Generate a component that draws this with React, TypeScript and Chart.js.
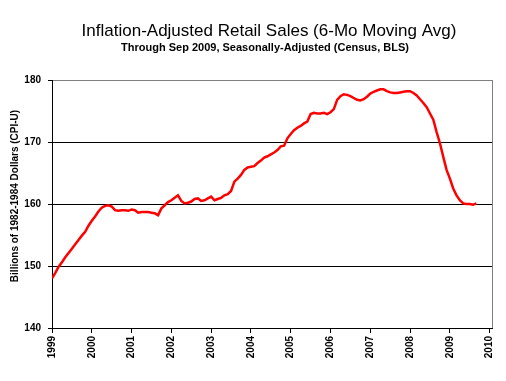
import React, { useEffect, useRef } from "react";
import { Chart, registerables } from "chart.js";

Chart.register(...registerables);

const TITLE = "Inflation-Adjusted Retail Sales (6-Mo Moving Avg)";
const SUBTITLE = "Through Sep 2009, Seasonally-Adjusted (Census, BLS)";
const Y_TITLE = "Billions of 1982-1984 Dollars (CPI-U)";

// Year tick labels (one tick every 12 months starting Jan 1999)
const YEAR_LABELS = ["1999", "2000", "2001", "2002", "2003", "2004", "2005", "2006", "2007", "2008", "2009", "2010"];

// Monthly values, Jan 1999 .. Sep 2009
const V1999 = [148.0, 148.9, 149.9, 150.6, 151.4, 152.1, 152.8, 153.5, 154.2, 154.9, 155.5, 156.5];
const V2000 = [157.3, 158.0, 158.8, 159.4, 159.7, 159.8, 159.6, 159.0, 158.9, 159.0, 159.0, 158.9];
const V2001 = [159.1, 159.0, 158.6, 158.7, 158.7, 158.7, 158.6, 158.5, 158.2, 159.3, 159.8, 160.3];
const V2002 = [160.6, 161.0, 161.4, 160.5, 160.1, 160.2, 160.4, 160.8, 160.9, 160.5, 160.6, 160.9];
const V2003 = [161.2, 160.6, 160.8, 161.0, 161.4, 161.6, 162.1, 163.6, 164.1, 164.7, 165.5, 165.9];
const V2004 = [166.0, 166.1, 166.6, 167.0, 167.5, 167.7, 168.0, 168.3, 168.7, 169.3, 169.4, 170.6];
const V2005 = [171.3, 171.9, 172.3, 172.6, 173.0, 173.3, 174.5, 174.7, 174.6, 174.6, 174.7, 174.5];
const V2006 = [174.8, 175.3, 176.8, 177.4, 177.7, 177.6, 177.4, 177.1, 176.8, 176.7, 176.9, 177.3];
const V2007 = [177.8, 178.1, 178.3, 178.5, 178.5, 178.2, 178.0, 177.9, 177.9, 178.0, 178.1, 178.2];
const V2008 = [178.2, 177.9, 177.5, 176.9, 176.3, 175.6, 174.6, 173.6, 171.6, 169.8, 167.6, 165.5];
const V2009 = [164.1, 162.5, 161.4, 160.6, 160.1, 160.0, 160.0, 159.9, 160.1];

const SALES = [...V1999, ...V2000, ...V2001, ...V2002, ...V2003, ...V2004, ...V2005, ...V2006, ...V2007, ...V2008, ...V2009];

const FONT = "'Liberation Sans', Arial, Helvetica, sans-serif";

const textPlugin = {
  id: "textPlugin",
  afterDraw(chart: any) {
    const { ctx, chartArea } = chart;
    ctx.save();
    // right border of plot area
    ctx.strokeStyle = "#808080";
    ctx.lineWidth = 1;
    ctx.beginPath();
    ctx.moveTo(Math.round(chartArea.right) + 0.5, chartArea.top);
    ctx.lineTo(Math.round(chartArea.right) + 0.5, chartArea.bottom);
    ctx.stroke();

    ctx.fillStyle = "#000";
    ctx.textAlign = "center";
    ctx.textBaseline = "alphabetic";
    ctx.font = `17px ${FONT}`;
    ctx.fillText(TITLE, 269, 36);
    ctx.font = `bold 11px ${FONT}`;
    ctx.fillText(SUBTITLE, 265, 51);

    ctx.translate(15, 196);
    ctx.rotate(-Math.PI / 2);
    ctx.textBaseline = "middle";
    ctx.font = `bold 10px ${FONT}`;
    ctx.fillText(Y_TITLE, 0, 0);
    ctx.restore();
  },
};

export default function App() {
  const ref = useRef<HTMLCanvasElement | null>(null);

  useEffect(() => {
    if (!ref.current) return;
    const chart = new Chart(ref.current, {
      type: "line",
      data: {
        datasets: [
          {
            data: SALES.map((v, i) => ({ x: i, y: v })),
            borderColor: "#ff0000",
            borderWidth: 2.5,
            pointRadius: 0,
            tension: 0,
            fill: false,
          },
        ],
      },
      options: {
        animation: false,
        responsive: false,
        maintainAspectRatio: false,
        layout: { padding: { left: 0, right: 14, top: 80, bottom: 0 } },
        plugins: {
          legend: { display: false },
          title: { display: false },
          tooltip: { enabled: false },
        },
        scales: {
          x: {
            type: "linear",
            min: 0,
            max: 132.7,
            afterBuildTicks: (scale: any) => {
              scale.ticks = YEAR_LABELS.map((_, i) => ({ value: i * 12 }));
            },
            afterFit: (scale: any) => {
              scale.height = 53;
            },
            ticks: {
              autoSkip: false,
              maxRotation: 90,
              minRotation: 90,
              padding: 3,
              color: "#000",
              font: { family: FONT, size: 10, weight: "bold" },
              callback: (v: any) => YEAR_LABELS[Math.round(Number(v) / 12)] ?? "",
            },
            grid: {
              drawOnChartArea: false,
              drawTicks: true,
              tickLength: 5,
              color: "#000",
            },
            border: { display: true, color: "#000", width: 1 },
          },
          y: {
            min: 140,
            max: 180,
            afterFit: (scale: any) => {
              scale.width = 52;
            },
            ticks: {
              stepSize: 10,
              padding: 7,
              color: "#000",
              font: { family: FONT, size: 10, weight: "bold" },
            },
            grid: {
              color: (c: any) => (c.tick && c.tick.value === 180 ? "#808080" : "#000"),
              tickColor: "#000",
              tickLength: 4,
              lineWidth: 1,
            },
            border: { display: true, color: "#000", width: 1 },
          },
        },
      },
      plugins: [textPlugin],
    });
    return () => chart.destroy();
  }, []);

  return (
    <div style={{ position: "absolute", left: 0, top: 0, width: 506, height: 381, background: "#fff" }}>
      <canvas ref={ref} width={506} height={381} style={{ display: "block" }} />
    </div>
  );
}
